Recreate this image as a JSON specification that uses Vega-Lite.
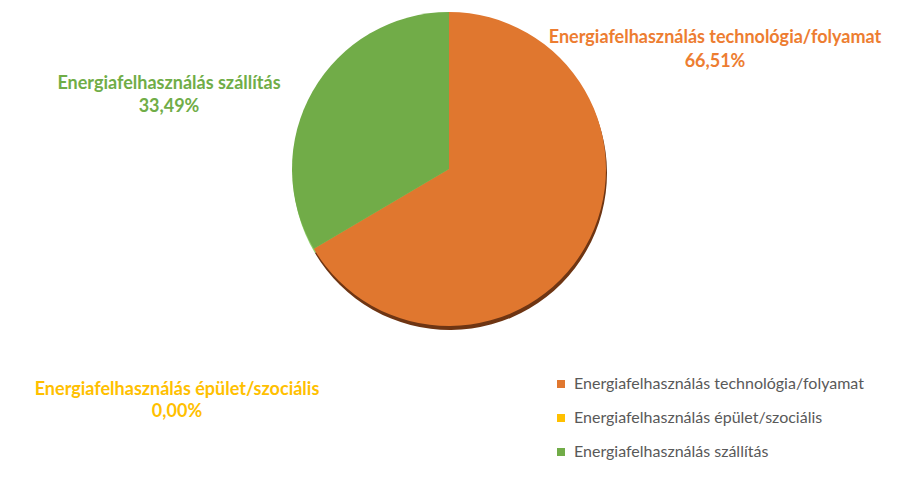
{
  "$schema": "https://vega.github.io/schema/vega-lite/v6.json",
  "width": 898,
  "height": 338,
  "autosize": {"type": "none"},
  "padding": {"left": 0, "top": 0, "right": 6, "bottom": 141},
  "background": "#ffffff",
  "config": {
    "view": {"stroke": null},
    "font": "Lato",
    "locale": {"number": {"decimal": ",", "thousands": " ", "grouping": [3], "currency": ["", " Ft"]}}
  },
  "data": {
    "values": [
      {"category": "Energiafelhasználás technológia/folyamat", "share": 0.6651, "order": 1},
      {"category": "Energiafelhasználás épület/szociális", "share": 0.0, "order": 2},
      {"category": "Energiafelhasználás szállítás", "share": 0.3349, "order": 3}
    ]
  },
  "resolve": {"scale": {"color": "independent"}, "legend": {"color": "independent"}},
  "layer": [
    {
      "mark": {"type": "arc", "radius": 157, "xOffset": 1, "yOffset": 4},
      "encoding": {
        "theta": {"field": "share", "type": "quantitative", "stack": true},
        "order": {"field": "order"},
        "color": {
          "field": "category", "type": "nominal", "legend": null,
          "scale": {"domain": ["Energiafelhasználás technológia/folyamat", "Energiafelhasználás épület/szociális", "Energiafelhasználás szállítás"], "range": ["#6E3513", "#9A7300", "#8FD06A"]}
        }
      }
    },
    {
      "mark": {"type": "arc", "radius": 157},
      "encoding": {
        "theta": {"field": "share", "type": "quantitative", "stack": true},
        "order": {"field": "order"},
        "color": {
          "field": "category", "type": "nominal",
          "sort": ["Energiafelhasználás technológia/folyamat", "Energiafelhasználás épület/szociális", "Energiafelhasználás szállítás"],
          "scale": {"domain": ["Energiafelhasználás technológia/folyamat", "Energiafelhasználás épület/szociális", "Energiafelhasználás szállítás"], "range": ["#E0772F", "#FFC000", "#71AC48"]},
          "legend": {
            "title": null,
            "orient": "none",
            "legendX": 553,
            "legendY": 376,
            "direction": "vertical",
            "symbolType": "square",
            "symbolSize": 64,
            "symbolStrokeWidth": 0,
            "labelFontSize": 16,
            "labelFont": "Lato",
            "labelColor": "#595959",
            "labelLimit": 400,
            "rowPadding": 18,
            "padding": 0,
            "labelOffset": 5
          }
        }
      }
    },
    {
      "transform": [{"filter": "datum.order == 1"}],
      "mark": {"type": "text", "fontWeight": "bold", "fontSize": 18, "color": "#ED7D31", "dx": 266, "dy": -131},
      "encoding": {"text": {"field": "category"}}
    },
    {
      "transform": [{"filter": "datum.order == 1"}],
      "mark": {"type": "text", "fontWeight": "bold", "fontSize": 18, "color": "#ED7D31", "dx": 266, "dy": -107},
      "encoding": {"text": {"field": "share", "type": "quantitative", "format": ".2%"}}
    },
    {
      "transform": [{"filter": "datum.order == 3"}],
      "mark": {"type": "text", "fontWeight": "bold", "fontSize": 18, "color": "#70AD47", "dx": -280, "dy": -85},
      "encoding": {"text": {"field": "category"}}
    },
    {
      "transform": [{"filter": "datum.order == 3"}],
      "mark": {"type": "text", "fontWeight": "bold", "fontSize": 18, "color": "#70AD47", "dx": -280, "dy": -62},
      "encoding": {"text": {"field": "share", "type": "quantitative", "format": ".2%"}}
    },
    {
      "transform": [{"filter": "datum.order == 2"}],
      "mark": {"type": "text", "fontWeight": "bold", "fontSize": 18, "color": "#FFC000", "dx": -272, "dy": 221},
      "encoding": {"text": {"field": "category"}}
    },
    {
      "transform": [{"filter": "datum.order == 2"}],
      "mark": {"type": "text", "fontWeight": "bold", "fontSize": 18, "color": "#FFC000", "dx": -272, "dy": 243},
      "encoding": {"text": {"field": "share", "type": "quantitative", "format": ".2%"}}
    }
  ]
}
